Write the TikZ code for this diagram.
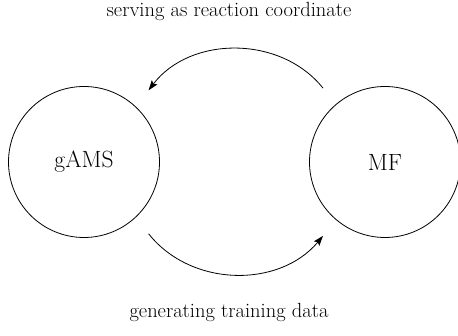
\documentclass[tikz,border=0pt]{standalone}
\usetikzlibrary{arrows.meta}
\usetikzlibrary{positioning}

\begin{document}
\begin{tikzpicture}[x=1pt, y=1pt, font=\fontsize{20.5}{25}\selectfont,
	model/.style={draw, circle, minimum size=151pt, inner sep=0pt, outer sep=21pt, line width=0.8pt, font=\fontsize{23.5}{28}\selectfont},
	flow/.style={-{Stealth[length=10pt, width=7pt, inset=2pt]}, line width=0.8pt}]
			\useasboundingbox (0,0) rectangle (458,336);
			\node[model] (gams) at (84,174) {gAMS};
			\node[model] (mf) at (385,174) {MF};

			\draw[flow] (mf.130) to[bend right=52] (gams.48);
			\node[anchor=base] (role) at (229,319) {serving as reaction coordinate};

			\draw[flow] (gams.-48) to[bend right=51] (mf.230);
			\node[anchor=base] (data) at (229,18) {generating training data};
		\end{tikzpicture}
\end{document}
